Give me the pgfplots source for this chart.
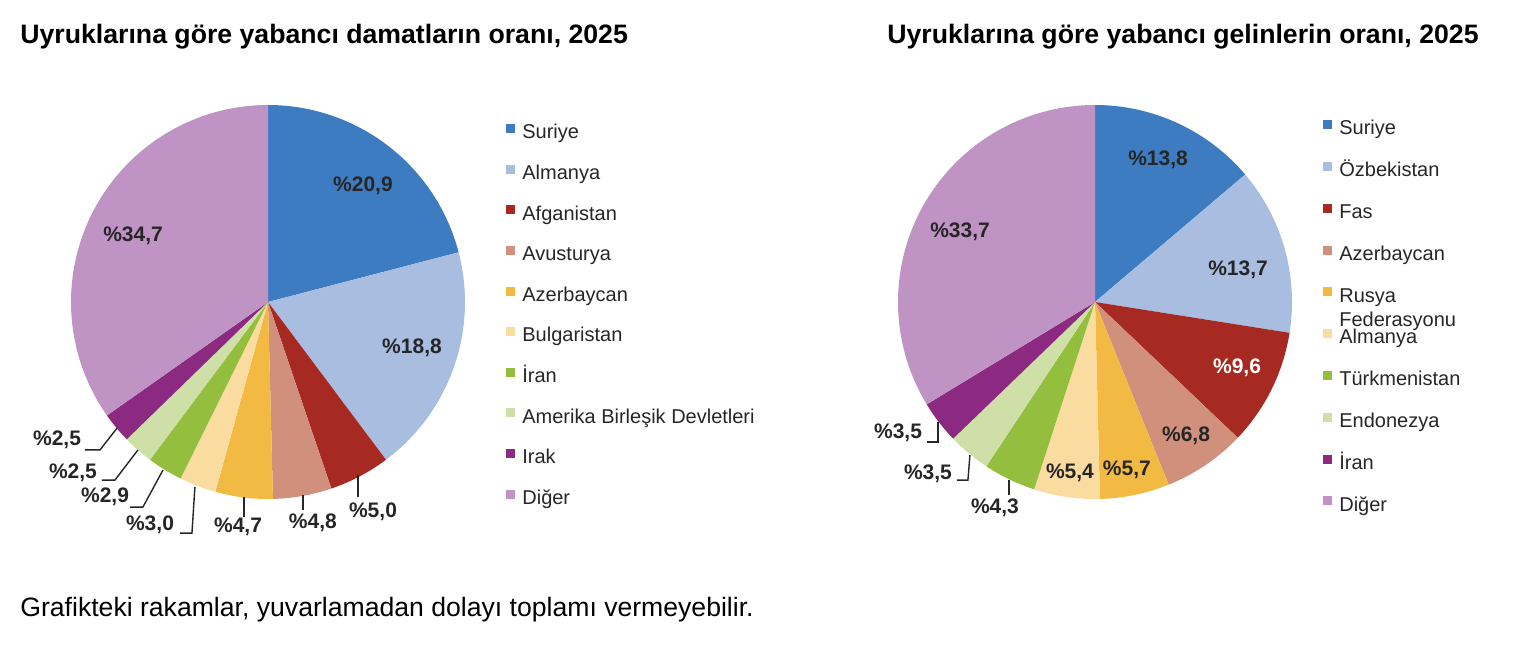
\documentclass[border=0pt]{standalone}
\usepackage{pgfplots}
\pgfplotsset{compat=1.18}
\usepackage{fontspec}
\setmainfont{Liberation Sans}

\definecolor{cSur}{HTML}{3E7CC2}
\definecolor{cLb}{HTML}{A8BDE0}
\definecolor{cRed}{HTML}{A62A22}
\definecolor{cSal}{HTML}{D1907B}
\definecolor{cOr}{HTML}{F2BA43}
\definecolor{cBei}{HTML}{FADCA0}
\definecolor{cGr}{HTML}{93BE3E}
\definecolor{cLg}{HTML}{CEDFA8}
\definecolor{cPur}{HTML}{8B2A80}
\definecolor{cLil}{HTML}{BF93C4}
\definecolor{txt}{HTML}{262626}

% one pie slice: value, colour, legend text
% slices run clockwise from 12 o'clock, scaled to the total
\newcommand\slice[3]{%
  \pgfmathsetmacro\aA{90-\cum*(360/\total)}%
  \pgfmathsetmacro\aB{90-(\cum+#1)*(360/\total)}%
  \edef\tmp{\noexpand\addplot[fill=#2, draw=none, domain=\aB:\aA, samples=90]
    ({cos(x)},{sin(x)}) -- (axis cs:0,0) -- cycle;}%
  \tmp
  \addlegendentry{#3}%
  \pgfmathsetmacro\newcum{\cum+#1}%
  \xdef\cum{\newcum}%
}

\pgfplotsset{
  pie/.style={
    hide axis, scale only axis, width=197pt, height=197pt,
    xmin=-1, xmax=1, ymin=-1, ymax=1, clip=false, anchor=center,
    legend cell align=left,
    legend image code/.code={\fill[##1] (0pt,0.3pt) rectangle (4.5pt,4.8pt);},
    legend style={draw=none, fill=none, anchor=north west, inner sep=0pt,
      font=\fontsize{10}{12}\selectfont, text=txt,
      nodes={inner sep=0pt, text height=7.2pt, text depth=2pt},
      /tikz/every odd column/.append style={column sep=3.5pt}},
  },
}
\tikzset{
  lab/.style={font=\bfseries\fontsize{10.5}{12}\selectfont, text=txt, inner sep=0pt},
  lead/.style={draw=txt, line width=0.7pt},
}

\begin{document}
\begin{tikzpicture}[x=0.5pt, y=0.5pt]
\path[use as bounding box] (0,0) rectangle (1540,646);

% titles and note
\node[anchor=base west, inner sep=0pt, font=\bfseries\fontsize{13.33}{16}\selectfont]
  at (20,602) {Uyruklarına göre yabancı damatların oranı, 2025};
\node[anchor=base west, inner sep=0pt, font=\bfseries\fontsize{13.33}{16}\selectfont]
  at (887,602) {Uyruklarına göre yabancı gelinlerin oranı, 2025};
\node[anchor=base west, inner sep=0pt, font=\fontsize{13.3}{16}\selectfont]
  at (20,29) {Grafikteki rakamlar, yuvarlamadan dolayı toplamı vermeyebilir.};

% ---- foreign grooms ----
\begin{axis}[pie, at={(134pt,172pt)},
  legend style={at={(axis cs:1.208,0.905)}, row sep=10.9pt}]
\gdef\cum{0}\gdef\total{99.8}
\slice{20.9}{cSur}{Suriye}
\slice{18.8}{cLb}{Almanya}
\slice{5.0}{cRed}{Afganistan}
\slice{4.8}{cSal}{Avusturya}
\slice{4.7}{cOr}{Azerbaycan}
\slice{3.0}{cBei}{Bulgaristan}
\slice{2.9}{cGr}{İran}
\slice{2.5}{cLg}{Amerika Birleşik Devletleri}
\slice{2.5}{cPur}{Irak}
\slice{34.7}{cLil}{Diğer}

\node[lab] at (axis cs:0.482,0.589) {\%20,9};
\node[lab] at (axis cs:0.731,-0.234) {\%18,8};
\node[lab] at (axis cs:-0.685,0.335) {\%34,7};
\node[lab] at (axis cs:0.533,-1.066) {\%5,0};
\node[lab] at (axis cs:0.228,-1.122) {\%4,8};
\node[lab] at (axis cs:-0.152,-1.142) {\%4,7};
\node[lab] at (axis cs:-0.599,-1.132) {\%3,0};
\node[lab] at (axis cs:-0.827,-0.990) {\%2,9};
\node[lab] at (axis cs:-0.990,-0.868) {\%2,5};
\node[lab] at (axis cs:-1.071,-0.701) {\%2,5};
\draw[lead] (axis cs:0.457,-0.878) -- (axis cs:0.457,-0.990);
\draw[lead] (axis cs:0.178,-0.980) -- (axis cs:0.178,-1.056);
\draw[lead] (axis cs:-0.122,-0.990) -- (axis cs:-0.122,-1.091);
\draw[lead] (axis cs:-0.371,-0.939) -- (axis cs:-0.386,-1.173) -- (axis cs:-0.447,-1.173);
\draw[lead] (axis cs:-0.533,-0.853) -- (axis cs:-0.635,-1.041) -- (axis cs:-0.701,-1.041);
\draw[lead] (axis cs:-0.660,-0.751) -- (axis cs:-0.777,-0.904) -- (axis cs:-0.843,-0.904);
\draw[lead] (axis cs:-0.766,-0.640) -- (axis cs:-0.853,-0.751) -- (axis cs:-0.929,-0.751);
\end{axis}

% ---- foreign brides ----
\begin{axis}[pie, at={(547.5pt,172pt)},
  legend style={at={(axis cs:1.157,0.925)}, row sep=11.5pt}]
\gdef\cum{0}\gdef\total{100}
\slice{13.8}{cSur}{Suriye}
\slice{13.7}{cLb}{Özbekistan}
\slice{9.6}{cRed}{Fas}
\slice{6.8}{cSal}{Azerbaycan}
\slice{5.7}{cOr}{\begin{tabular}[t]{@{}l@{}}Rusya\\Federasyonu\end{tabular}}
\slice{5.4}{cBei}{Almanya}
\slice{4.3}{cGr}{Türkmenistan}
\slice{3.5}{cLg}{Endonezya}
\slice{3.5}{cPur}{İran}
\slice{33.7}{cLil}{Diğer}

\node[lab] at (axis cs:0.320,0.721) {\%13,8};
\node[lab] at (axis cs:0.726,0.162) {\%13,7};
\node[lab, text=white] at (axis cs:0.721,-0.335) {\%9,6};
\node[lab] at (axis cs:0.462,-0.680) {\%6,8};
\node[lab] at (axis cs:0.162,-0.853) {\%5,7};
\node[lab] at (axis cs:-0.127,-0.868) {\%5,4};
\node[lab] at (axis cs:-0.508,-1.046) {\%4,3};
\node[lab] at (axis cs:-0.848,-0.873) {\%3,5};
\node[lab] at (axis cs:-1.000,-0.665) {\%3,5};
\node[lab] at (axis cs:-0.685,0.355) {\%33,7};
\draw[lead] (axis cs:-0.797,-0.609) -- (axis cs:-0.797,-0.711) -- (axis cs:-0.853,-0.711);
\draw[lead] (axis cs:-0.635,-0.777) -- (axis cs:-0.645,-0.904) -- (axis cs:-0.701,-0.904);
\draw[lead] (axis cs:-0.437,-0.904) -- (axis cs:-0.437,-0.980);
\end{axis}
\end{tikzpicture}
\end{document}
